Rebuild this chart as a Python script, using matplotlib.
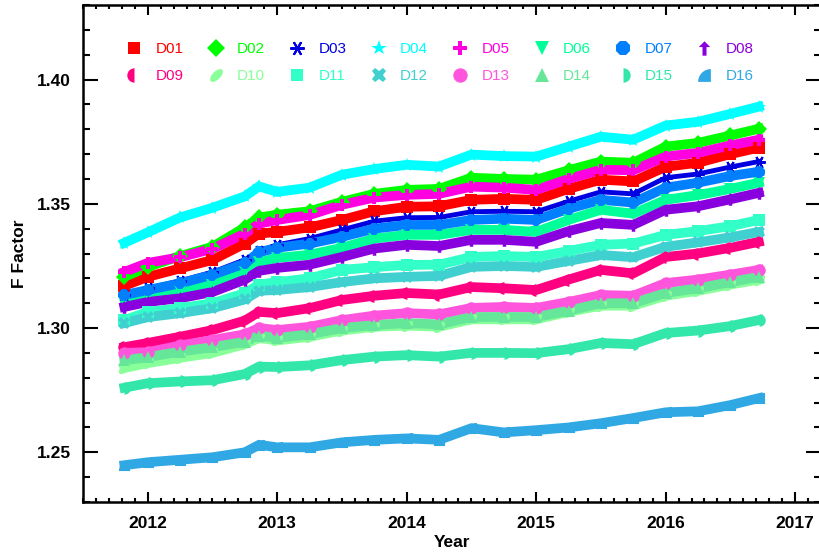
import matplotlib
matplotlib.use('Agg')
import matplotlib.pyplot as plt
from matplotlib.ticker import MultipleLocator, FixedLocator
import numpy as np

# ---------------- data ----------------
years = [2011.82, 2012.0, 2012.25, 2012.5, 2012.75, 2012.86, 2013.0, 2013.25, 2013.5, 2013.75,
         2014.0, 2014.25, 2014.5, 2014.75, 2015.0, 2015.25, 2015.5, 2015.75, 2016.0, 2016.25,
         2016.5, 2016.72]

D01 = [1.3170, 1.3206, 1.3240, 1.3274, 1.3340, 1.3380, 1.3387, 1.3405, 1.3435, 1.3470, 1.3488,
       1.3490, 1.3516, 1.3520, 1.3516, 1.3560, 1.3597, 1.3590, 1.3649, 1.3665, 1.3700, 1.3726]
D02 = [1.3206, 1.3246, 1.3290, 1.3327, 1.3405, 1.3445, 1.3456, 1.3470, 1.3508, 1.3540, 1.3556,
       1.3560, 1.3605, 1.3600, 1.3597, 1.3635, 1.3670, 1.3665, 1.3730, 1.3745, 1.3775, 1.3802]
D03 = [1.3135, 1.3160, 1.3190, 1.3225, 1.3275, 1.3310, 1.3335, 1.3360, 1.3395, 1.3430, 1.3444,
       1.3445, 1.3468, 1.3470, 1.3468, 1.3510, 1.3548, 1.3540, 1.3605, 1.3620, 1.3648, 1.3670]
D04 = [1.3343, 1.3385, 1.3445, 1.3484, 1.3530, 1.3570, 1.3548, 1.3565, 1.3617, 1.3640, 1.3657,
       1.3650, 1.3698, 1.3692, 1.3690, 1.3730, 1.3770, 1.3758, 1.3815, 1.3830, 1.3862, 1.3891]
D05 = [1.3226, 1.3262, 1.3285, 1.3319, 1.3380, 1.3420, 1.3435, 1.3455, 1.3496, 1.3525, 1.3536,
       1.3540, 1.3569, 1.3565, 1.3556, 1.3600, 1.3637, 1.3635, 1.3690, 1.3705, 1.3735, 1.3758]
D06 = [1.3113, 1.3133, 1.3150, 1.3173, 1.3225, 1.3265, 1.3282, 1.3295, 1.3323, 1.3360, 1.3375,
       1.3375, 1.3395, 1.3395, 1.3387, 1.3435, 1.3476, 1.3460, 1.3516, 1.3535, 1.3560, 1.3585]
D07 = [1.3133, 1.3153, 1.3180, 1.3214, 1.3260, 1.3305, 1.3323, 1.3340, 1.3367, 1.3400, 1.3415,
       1.3415, 1.3435, 1.3440, 1.3435, 1.3480, 1.3516, 1.3505, 1.3565, 1.3585, 1.3612, 1.3629]
D08 = [1.3085, 1.3105, 1.3120, 1.3145, 1.3195, 1.3230, 1.3242, 1.3255, 1.3286, 1.3320, 1.3335,
       1.3330, 1.3355, 1.3355, 1.3347, 1.3390, 1.3423, 1.3415, 1.3476, 1.3490, 1.3518, 1.3544]
D09 = [1.2923, 1.2940, 1.2965, 1.2992, 1.3030, 1.3065, 1.3060, 1.3080, 1.3113, 1.3130, 1.3141,
       1.3135, 1.3165, 1.3160, 1.3153, 1.3195, 1.3234, 1.3220, 1.3286, 1.3300, 1.3323, 1.3347]
D10 = [1.2839, 1.2859, 1.2880, 1.2900, 1.2935, 1.2960, 1.2950, 1.2965, 1.2990, 1.3005, 1.3010,
       1.3005, 1.3035, 1.3035, 1.3035, 1.3065, 1.3090, 1.3090, 1.3130, 1.3150, 1.3175, 1.3195]
D11 = [1.3032, 1.3065, 1.3080, 1.3100, 1.3140, 1.3175, 1.3185, 1.3200, 1.3234, 1.3245, 1.3254,
       1.3255, 1.3286, 1.3290, 1.3286, 1.3310, 1.3335, 1.3340, 1.3375, 1.3390, 1.3410, 1.3435]
D12 = [1.3020, 1.3044, 1.3060, 1.3080, 1.3115, 1.3150, 1.3153, 1.3165, 1.3185, 1.3200, 1.3206,
       1.3210, 1.3246, 1.3250, 1.3246, 1.3270, 1.3294, 1.3285, 1.3327, 1.3345, 1.3365, 1.3387]
D13 = [1.2900, 1.2903, 1.2930, 1.2952, 1.2975, 1.3000, 1.2992, 1.3005, 1.3032, 1.3050, 1.3060,
       1.3055, 1.3081, 1.3085, 1.3081, 1.3105, 1.3133, 1.3130, 1.3181, 1.3195, 1.3215, 1.3234]
D14 = [1.2870, 1.2883, 1.2905, 1.2923, 1.2945, 1.2970, 1.2960, 1.2975, 1.3000, 1.3012, 1.3020,
       1.3015, 1.3044, 1.3045, 1.3044, 1.3070, 1.3100, 1.3100, 1.3141, 1.3160, 1.3185, 1.3206]
D15 = [1.2760, 1.2778, 1.2785, 1.2790, 1.2815, 1.2845, 1.2843, 1.2850, 1.2871, 1.2885, 1.2891,
       1.2885, 1.2900, 1.2900, 1.2899, 1.2915, 1.2940, 1.2935, 1.2980, 1.2990, 1.3008, 1.3032]
D16 = [1.2448, 1.2460, 1.2470, 1.2480, 1.2500, 1.2530, 1.2520, 1.2520, 1.2540, 1.2550, 1.2556,
       1.2550, 1.2597, 1.2580, 1.2589, 1.2600, 1.2617, 1.2638, 1.2661, 1.2665, 1.2690, 1.2718]

names = ['D01', 'D02', 'D03', 'D04', 'D05', 'D06', 'D07', 'D08',
         'D09', 'D10', 'D11', 'D12', 'D13', 'D14', 'D15', 'D16']
series = [D01, D02, D03, D04, D05, D06, D07, D08, D09, D10, D11, D12, D13, D14, D15, D16]

y_ticks = [1.25, 1.30, 1.35, 1.40]
x_ticks = [2012, 2013, 2014, 2015, 2016, 2017]

# ---------------- styles ----------------
colors = ['#ff0000', '#00ff00', '#0000e0', '#00ffff', '#ff00e0', '#00ff99', '#0080ff', '#8800dd',
          '#ff0080', '#88ff99', '#33ffc8', '#40d0d0', '#ff55dd', '#66e699', '#33e6aa', '#30a8e4']

arrow = [(0, 1), (-0.8, 0.2), (-0.28, 0.2), (-0.28, -1), (0.28, -1), (0.28, 0.2), (0.8, 0.2), (0, 1)]
th = np.linspace(0, 2 * np.pi, 40)
c45 = np.cos(np.pi / 4)
leaf = [(1.0 * np.cos(a) * c45 - 0.5 * np.sin(a) * c45, 1.0 * np.cos(a) * c45 + 0.5 * np.sin(a) * c45) for a in th]
qa = np.linspace(np.pi, np.pi / 2, 20)
wedge = [(1, -1), (-1, -1)] + [(1 + 2 * np.cos(a), -1 + 2 * np.sin(a)) for a in qa] + [(1, -1)]

markers = ['s', 'D', (6, 2, 90), '*', 'P', 'v', '8', arrow,
           'o', leaf, 's', 'X', 'o', '^', 'o', wedge]
fills = ['full'] * 8 + ['left', 'full', 'full', 'full', 'full', 'full', 'right', 'full']
msizes = [8, 8, 9, 10, 9, 9, 9, 9, 9, 8, 8, 9, 9, 9, 9, 8]
lwidths = [7, 7, 3.5, 7, 7, 7, 7, 7, 7, 7, 7, 7, 7, 7, 7, 7]

plt.rcParams['font.family'] = ['Liberation Sans', 'DejaVu Sans']

fig = plt.figure(figsize=(8.19, 5.53), dpi=100)
ax = fig.add_axes([83 / 819, 1 - 502 / 553, 738 / 819, 497 / 553])

handles = []
for name, vals, col, mk, fs, ms, lw in zip(names, series, colors, markers, fills, msizes, lwidths):
    ax.plot(years, vals, '-', color=col, lw=lw, solid_joinstyle='miter', zorder=2)
    mew = 1.5 if mk == (6, 2, 90) else 0
    h, = ax.plot(years, vals, ls='none', marker=mk, color=col, markersize=ms,
                 fillstyle=fs, markeredgewidth=mew, markeredgecolor=col, label=name, zorder=3)
    handles.append(h)

ax.set_xlim(2011.5, 2017.2)
ax.set_ylim(1.23, 1.43)
ax.xaxis.set_major_locator(FixedLocator(x_ticks))
ax.xaxis.set_minor_locator(MultipleLocator(0.1))
ax.yaxis.set_major_locator(FixedLocator(y_ticks))
ax.yaxis.set_minor_locator(MultipleLocator(0.01))
ax.set_yticklabels([f'{v:.2f}' for v in y_ticks])
ax.set_xticklabels([str(v) for v in x_ticks])

ax.tick_params(axis='both', which='both', direction='in', top=True, right=True, width=1.5, color='black')
ax.tick_params(axis='x', which='major', length=7, pad=10)
ax.tick_params(axis='x', which='minor', length=3)
ax.tick_params(axis='y', which='major', length=11, pad=9)
ax.tick_params(axis='y', which='minor', length=5)
for lab in ax.get_xticklabels() + ax.get_yticklabels():
    lab.set_fontweight('bold')
    lab.set_fontsize(12.5)
for sp in ax.spines.values():
    sp.set_linewidth(1.8)

ax.set_xlabel('Year', fontsize=12.5, fontweight='bold', labelpad=3)
ax.set_ylabel('F Factor', fontsize=12.5, fontweight='bold', labelpad=7)

# legend: row 1 = D01..D08, row 2 = D09..D16
order = []
for i in range(8):
    order += [i, i + 8]
leg = ax.legend([handles[i] for i in order], [names[i] for i in order], ncol=8,
                loc='upper left', bbox_to_anchor=(0.059, 0.925), frameon=False,
                fontsize=11, handlelength=1.0, handletextpad=0.9, columnspacing=1.6,
                labelspacing=0.85, borderpad=0, borderaxespad=0, markerscale=1.15)
for txt, i in zip(leg.get_texts(), order):
    txt.set_color(colors[i])

fig.savefig('out.png', dpi=100)
